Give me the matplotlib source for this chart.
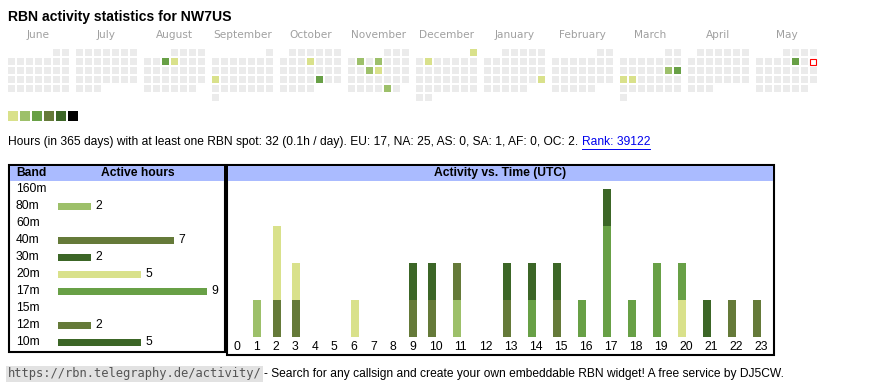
import datetime as dt
import numpy as np
import matplotlib.pyplot as plt
from matplotlib.patches import Rectangle

plt.rcParams['font.family'] = ['Liberation Sans', 'DejaVu Sans']

# ---- data ----
callsign = "NW7US"
first_month = dt.date(2024, 6, 1)
today = dt.date(2025, 5, 11)
month_names = ["June", "July", "August", "September", "October", "November",
               "December", "January", "February", "March", "April", "May"]

active_days = ["2024-08-07", "2024-08-08", "2024-09-16", "2024-10-10", "2024-10-25",
               "2024-11-05", "2024-11-07", "2024-11-13", "2024-11-14", "2024-11-29",
               "2024-12-01", "2024-12-03", "2025-01-26", "2025-03-15", "2025-03-16",
               "2025-03-17", "2025-03-18", "2025-05-09"]
active_levels = [3, 1, 1, 1, 3, 2, 2, 2, 1, 2, 1, 1, 1, 2, 3, 1, 1, 3]

level_colors = ["#ebebeb", "#d9e18b", "#9dc06a", "#68a046", "#657a39", "#3c6627", "#000000"]

bands = ["160m", "80m", "60m", "40m", "30m", "20m", "17m", "15m", "12m", "10m"]
band_levels = [0, 2, 0, 4, 5, 1, 3, 0, 4, 5]
# UTC hour of each active hour, per band
band_hours = [[], [1, 11], [], [2, 3, 9, 10, 11, 13, 15], [9, 10],
              [2, 2, 3, 6, 20], [14, 16, 17, 17, 17, 18, 19, 19, 20], [],
              [22, 23], [13, 14, 15, 17, 21]]

continents = ["EU", "NA", "AS", "SA", "AF", "OC"]
continent_hours = [17, 25, 0, 1, 0, 2]
rank = 39122

# ---- figure ----
fig = plt.figure(figsize=(8.7, 3.9), dpi=100)
ax = fig.add_axes([0, 0, 1, 1])
ax.set_xlim(0, 870)
ax.set_ylim(390, 0)
ax.axis("off")
body = 8.7
line = 8.65

ax.text(8, 17, f"RBN activity statistics for {callsign}", fontsize=10.1, fontweight="bold",
        va="center", ha="left")

# calendar
level_of = {dt.date.fromisoformat(d): l for d, l in zip(active_days, active_levels)}
for m, name in enumerate(month_names):
    y, mo = first_month.year + (first_month.month - 1 + m) // 12, (first_month.month - 1 + m) % 12 + 1
    x0 = 8 + 68 * m
    ax.text(x0 + 30.5, 35, name, fontsize=7.6, color="#a0a0a0", ha="center", va="center",
            family="DejaVu Sans")
    d = dt.date(y, mo, 1)
    offset = d.weekday()
    while d.month == mo:
        k = d.day - 1 + offset
        cx, cy = x0 + 9 * (k % 7), 49 + 9 * (k // 7)
        if d == today:
            ax.add_patch(Rectangle((cx + 0.5, cy + 0.5), 6, 6, facecolor="white",
                                   edgecolor="red", lw=0.8))
        else:
            ax.add_patch(Rectangle((cx, cy), 7, 7, facecolor=level_colors[level_of.get(d, 0)],
                                   edgecolor="none"))
        d += dt.timedelta(days=1)

for i, c in enumerate(level_colors[1:]):
    ax.add_patch(Rectangle((8 + 12 * i, 111), 10, 10, facecolor=c, edgecolor="none"))

# stats line
total = sum(len(h) for h in band_hours)
cont = ", ".join(f"{c}: {v}" for c, v in zip(continents, continent_hours))
stats = f"Hours (in 365 days) with at least one RBN spot: {total} ({total / 365:.1f}h / day). {cont}. "
t = ax.text(8, 142, stats, fontsize=line, va="center", ha="left")
fig.canvas.draw()
r = fig.canvas.get_renderer()
bb = t.get_window_extent(r)
link = ax.text(bb.x1, 142, f"Rank: {rank}", fontsize=line, va="center", ha="left", color="#0000ee")
lb = link.get_window_extent(r)
ax.plot([lb.x0, lb.x1], [148.5, 148.5], color="#0000ee", lw=0.7)

# band table
ax.add_patch(Rectangle((9, 165), 216, 187, facecolor="white", edgecolor="black", lw=1.5))
ax.add_patch(Rectangle((10, 166), 214, 14.5, facecolor="#aabbff", edgecolor="none"))
ax.text(16, 173, "Band", fontsize=body, fontweight="bold", va="center")
ax.text(138, 173, "Active hours", fontsize=body, fontweight="bold", va="center", ha="center")
for i, b in enumerate(bands):
    ax.text(16, 189 + 17 * i, b, fontsize=body, va="center")

band_totals = [len(h) for h in band_hours]
px_per_hour = 16.6
axb = fig.add_axes([58 / 870, (390 - 350.5) / 390, 166 / 870, 170 / 390])
axb.set_xlim(0, 166 / px_per_hour)
axb.set_ylim(9.5, -0.5)
axb.axis("off")
axb.barh(range(len(bands)), band_totals, height=7 / 17,
         color=[level_colors[l] for l in band_levels])
for i, v in enumerate(band_totals):
    if v:
        axb.text(v + 4 / px_per_hour, i, str(v), fontsize=body, va="center")

# hourly chart
ax.add_patch(Rectangle((227.5, 165), 547, 189.5, facecolor="white", edgecolor="black", lw=1.5))
ax.add_patch(Rectangle((228.5, 166), 545, 14.5, facecolor="#aabbff", edgecolor="none"))
ax.text(500, 173, "Activity vs. Time (UTC)", fontsize=body, fontweight="bold",
        va="center", ha="center")

hours = np.arange(24)
hx = 233.5 + 19.5 * np.minimum(hours, 10) + 25 * np.maximum(hours - 10, 0)
unit_px = 37
axh = fig.add_axes([227 / 870, (390 - 337) / 390, 548 / 870, 157 / 390])
axh.set_xlim(227, 775)
axh.set_ylim(0, 157 / unit_px)
axh.axis("off")
bottom = np.zeros(24)
for hrs, lvl in zip(band_hours, band_levels):
    cnt = np.bincount(np.array(hrs, dtype=int), minlength=24)
    if cnt.sum():
        axh.bar(hx, cnt, width=8, bottom=bottom, align="edge", color=level_colors[lvl])
        bottom += cnt
for h in hours:
    ax.text(hx[h] + (0 if h < 10 else 1), 347, str(h), fontsize=body, va="center", ha="left")

# footer
code = ax.text(8, 374, "https://rbn.telegraphy.de/activity/", fontsize=8.7, va="center",
               family="DejaVu Sans Mono", color="#555555",
               bbox=dict(facecolor="#e2e2e2", edgecolor="none", pad=1.2))
fig.canvas.draw()
cb = code.get_window_extent(r)
ax.text(cb.x1 + 2, 374, "- Search for any callsign and create your own embeddable RBN widget! "
        "A free service by DJ5CW.", fontsize=line, va="center")

fig.savefig("out.png", dpi=100)
